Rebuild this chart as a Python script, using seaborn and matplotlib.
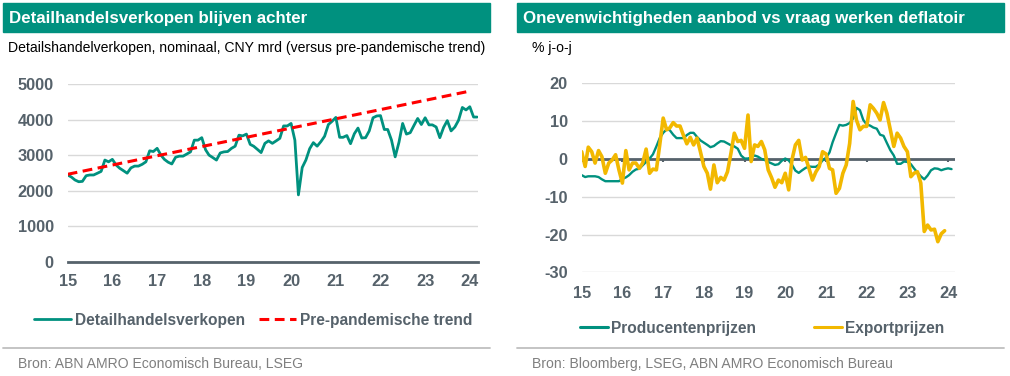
import pandas as pd
import seaborn as sns
import matplotlib.pyplot as plt
import matplotlib.dates as mdates
from matplotlib.patches import Rectangle
from matplotlib.lines import Line2D

# Detailhandelsverkopen, CNY mrd, maandelijks (dec 2014 - feb 2024)
retail = [2440,
          2380, 2300, 2250, 2260, 2420, 2440, 2440, 2490, 2540, 2860, 2810, 2880,
          2720, 2630, 2560, 2490, 2640, 2690, 2690, 2740, 2810, 3120, 3100, 3190,
          3000, 2880, 2800, 2750, 2940, 2970, 2970, 3030, 3090, 3420, 3420, 3490,
          3150, 3000, 2930, 2860, 3060, 3090, 3100, 3190, 3250, 3560, 3540, 3590,
          3300, 3250, 3160, 3070, 3330, 3400, 3330, 3400, 3470, 3820, 3820, 3890,
          3420, 1880, 2650, 2860, 3180, 3350, 3250, 3380, 3530, 3860, 3950, 4060,
          3500, 3500, 3550, 3320, 3600, 3760, 3480, 3490, 3680, 4050, 4100, 4110,
          3720, 3720, 3420, 2950, 3360, 3890, 3590, 3630, 3830, 4030, 3860, 4050,
          3850, 3850, 3790, 3490, 3780, 3970, 3680, 3790, 3980, 4340, 4270, 4360,
          4070, 4070]
retail_dates = pd.date_range('2014-12-31', periods=len(retail), freq='ME')

# pre-pandemische trend (begin- en eindpunt)
trend_dates = pd.to_datetime(['2014-12-31', '2023-12-31'])
trend = [2460, 4800]

# Producentenprijzen, % j-o-j (jan 2015 - feb 2024)
ppi = [-4.3, -4.8, -4.6, -4.6, -4.6, -4.8, -5.4, -5.9, -5.9, -5.9, -5.9, -5.9,
       -5.3, -4.9, -4.3, -3.4, -2.8, -2.6, -1.7, -0.8, 0.1, 1.2, 3.3, 5.5,
       6.9, 7.8, 7.6, 6.4, 5.5, 5.5, 5.5, 6.3, 6.9, 6.9, 5.8, 4.9,
       4.3, 3.7, 3.1, 3.4, 4.1, 4.7, 4.6, 4.1, 3.6, 3.3, 2.7, 0.9,
       0.1, 0.1, 0.4, 0.9, 0.6, 0.0, -0.3, -0.8, -1.2, -1.6, -1.4, -0.5,
       0.1, -0.4, -1.5, -3.1, -3.7, -3.0, -2.4, -2.0, -2.1, -2.1, -1.5, -0.4,
       0.3, 1.7, 4.4, 6.8, 9.0, 8.8, 9.0, 9.5, 10.7, 13.5, 12.9, 10.3,
       9.1, 8.8, 8.3, 8.0, 6.4, 6.1, 4.2, 2.3, 0.9, -1.3, -1.3, -0.7,
       -0.8, -1.4, -2.5, -3.6, -4.6, -5.4, -4.4, -3.0, -2.5, -2.6, -3.0, -2.7,
       -2.5, -2.7]
ppi_dates = pd.date_range('2015-01-01', periods=len(ppi), freq='MS')

# Exportprijzen, % j-o-j (jan 2015 - dec 2023)
export = [1.9, -2.0, 3.1, 1.9, -1.1, 2.2, 0.6, -3.8, -1.1, -0.3, 1.1, -2.9,
          -6.4, 2.2, -2.9, -1.1, -1.1, -2.5, -1.1, 2.6, -3.8, -2.7, -2.9, 3.7,
          10.8, 7.7, 8.2, 9.6, 8.7, 8.7, 6.3, 4.0, 5.7, 3.7, 5.5, 1.9,
          -2.0, -3.8, -8.0, -1.6, -6.3, -4.9, -5.6, -3.4, 1.5, 6.8, 4.6, 4.9,
          2.8, 11.6, -0.7, 3.7, 3.3, 4.6, 2.4, -2.9, -5.0, -7.5, -5.6, -6.3,
          -3.8, -8.2, -0.3, 3.7, 4.9, -0.3, 0.4, -2.5, -5.6, -3.5, -2.0, 1.9,
          1.3, -2.5, -2.9, -9.1, -7.8, -3.8, -1.6, 4.1, 15.2, 10.3, 7.7, 8.6,
          8.6, 14.3, 13.4, 12.1, 10.3, 14.9, 12.1, 7.7, 3.3, 6.8, 5.5, 3.3,
          1.9, -4.7, -3.8, -3.4, -6.4, -19.2, -17.5, -18.8, -18.6, -21.9, -19.8, -19.0]
export_dates = pd.date_range('2015-01-01', periods=len(export), freq='MS')

TEAL = '#00917F'
YELLOW = '#F2B800'
DARK = '#56626B'
GRID = '#D9D9D9'

sns.set_style('white')
plt.rcParams['font.family'] = ['Liberation Sans', 'DejaVu Sans']
plt.rcParams['axes.unicode_minus'] = False

W, H = 1010, 376
fig = plt.figure(figsize=(W / 100, H / 100), dpi=100)


def box(x0, y0, x1, y1):
    return [x0 / W, 1 - y1 / H, (x1 - x0) / W, (y1 - y0) / H]


def header(x0, x1, title, sub, sub_x, src, src_x):
    fig.patches.append(Rectangle((x0 / W, 1 - 32 / H), (x1 - x0) / W, 29 / H,
                                 transform=fig.transFigure, color=TEAL, zorder=0))
    fig.text((x0 + 6) / W, 1 - 18 / H, title, color='white', fontsize=12.2,
             fontweight='bold', va='center')
    fig.text(sub_x / W, 1 - 48 / H, sub, fontsize=10.1, va='center', color='black')
    fig.add_artist(Line2D([x0 / W, x1 / W], [1 - 348 / H] * 2, color='#BFBFBF', lw=1.3))
    fig.text(src_x / W, 1 - 364 / H, src, color='#7F7F7F', fontsize=10.1, va='center')


def style_axes(ax):
    for s in ['left', 'right', 'top']:
        ax.spines[s].set_visible(False)
    ax.yaxis.grid(True, color=GRID, lw=1)
    ax.xaxis.grid(False)
    ax.set_axisbelow(True)
    ax.xaxis.set_major_locator(mdates.YearLocator())
    ax.xaxis.set_major_formatter(mdates.DateFormatter('%y'))
    ax.tick_params(axis='y', length=0, pad=10, labelsize=11.8, labelcolor=DARK)
    ax.set_xlabel('')
    ax.set_ylabel('')


# ---------------- links ----------------
header(3, 490, 'Detailhandelsverkopen blijven achter',
       'Detailshandelverkopen, nominaal, CNY mrd (versus pre-pandemische trend)', 8,
       'Bron: ABN AMRO Economisch Bureau, LSEG', 18)

ax1 = fig.add_axes(box(67.7, 84, 478, 261.7))
sns.lineplot(x=retail_dates, y=retail, ax=ax1, color=TEAL, lw=2.0,
             label='Detailhandelsverkopen')
sns.lineplot(x=trend_dates, y=trend, ax=ax1, color='#FF0000', lw=2.2, ls='--',
             label='Pre-pandemische trend')
ax1.lines[-1].set_dashes((3.2, 1.8))
style_axes(ax1)
ax1.set_ylim(0, 5000)
ax1.set_yticks(range(0, 5001, 1000))
ax1.set_xlim(pd.Timestamp('2014-12-31'), pd.Timestamp('2024-03-07'))
ax1.spines['bottom'].set_color(DARK)
ax1.spines['bottom'].set_linewidth(2)
ax1.tick_params(axis='x', length=5, width=1.5, color=DARK, pad=4,
                labelsize=11.8, labelcolor=DARK)
for lbl in ax1.get_xticklabels() + ax1.get_yticklabels():
    lbl.set_fontweight('bold')
ax1.legend(loc='center', bbox_to_anchor=(253 / W, 1 - 320 / H),
           bbox_transform=fig.transFigure, ncol=2, frameon=False,
           handlelength=2.4, handletextpad=0.25, columnspacing=0.9,
           prop={'size': 11.2, 'weight': 'bold'}, labelcolor=DARK)

# ---------------- rechts ----------------
header(517, 1004, 'Onevenwichtigheden aanbod vs vraag werken deflatoir',
       '% j-o-j', 532, 'Bron: Bloomberg, LSEG, ABN AMRO Economisch Bureau', 532)

ax2 = fig.add_axes(box(581.7, 83.3, 955, 272.3))
sns.lineplot(x=ppi_dates, y=ppi, ax=ax2, color=TEAL, lw=1.7, label='Producentenprijzen')
sns.lineplot(x=export_dates, y=export, ax=ax2, color=YELLOW, lw=2.6, label='Exportprijzen')
style_axes(ax2)
ax2.spines['bottom'].set_visible(False)
ax2.set_ylim(-30, 20)
ax2.set_yticks(range(-30, 21, 10))
ax2.set_xlim(pd.Timestamp('2015-01-01'), pd.Timestamp('2024-03-03'))
ax2.axhline(0, color=DARK, lw=2, zorder=1.5)
year_ticks = pd.date_range('2015-01-01', '2024-01-01', freq='YS')
ax2.vlines(year_ticks, -0.9, 0, color=DARK, lw=1.5, zorder=1.5)
ax2.tick_params(axis='x', length=0, pad=10, labelsize=11.8, labelcolor=DARK)
for lbl in ax2.get_xticklabels() + ax2.get_yticklabels():
    lbl.set_fontweight('bold')
leg = ax2.legend(loc='center', bbox_to_anchor=(762 / W, 1 - 328 / H),
                 bbox_transform=fig.transFigure, ncol=2, frameon=False,
                 handlelength=1.8, handletextpad=0.2, columnspacing=3.7,
                 prop={'size': 11.2, 'weight': 'bold'}, labelcolor=DARK)
for h in leg.legend_handles:
    h.set_linewidth(2.2)

fig.savefig('out.png', dpi=100)
